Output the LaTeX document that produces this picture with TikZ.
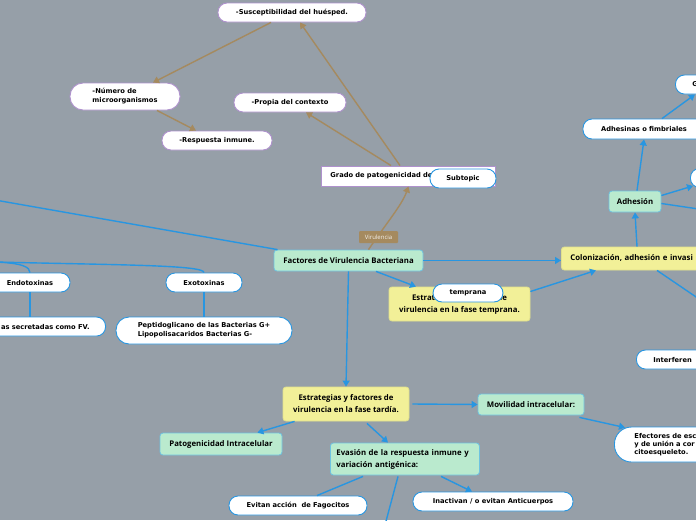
\documentclass[tikz,border=0pt]{standalone}
\usepackage{fontspec}
\setmainfont{DejaVu Sans}
\newfontfamily\osans{Open Sans}
\usetikzlibrary{arrows.meta,calc}
\definecolor{bg}{RGB}{150,159,168}
\definecolor{lineblue}{RGB}{40,150,225}
\definecolor{brownc}{RGB}{165,138,95}
\definecolor{greenfill}{RGB}{186,234,206}
\definecolor{greenborder}{RGB}{110,195,225}
\definecolor{yellowfill}{RGB}{242,240,152}
\definecolor{yellowborder}{RGB}{225,225,140}
\definecolor{pillpurple}{RGB}{175,145,205}
\begin{document}
\begin{tikzpicture}[x=1pt,y=-1pt,
  pill/.style={draw=pillpurple, fill=white, rounded corners=9pt, line width=0.9pt,
    font=\fontsize{6.7}{9}\selectfont\bfseries, inner sep=0pt, minimum height=19pt, align=center},
  bluepill/.style={pill, draw=lineblue},
  greenbox/.style={draw=greenborder, fill=greenfill, rounded corners=3pt, line width=0.8pt,
    font=\osans\fontsize{7.8}{12}\selectfont\bfseries, inner sep=0pt, align=center},
  yellowbox/.style={greenbox, draw=yellowborder, fill=yellowfill},
  bl/.style={draw=lineblue, line width=1.4pt},
  bla/.style={bl, -{Triangle[length=6pt,width=7pt]}},
  br/.style={draw=brownc, line width=1.4pt, -{Triangle[length=6pt,width=7pt]}}
]
\useasboundingbox (0,0) rectangle (696,520);
\fill[bg] (0,0) rectangle (696,520);

% nodes
\node[pill, minimum width=148pt] (susc) at (292,12.5) {-Susceptibilidad del huésped.};
\node[pill, minimum width=110pt, minimum height=27pt, rounded corners=13pt, align=left] (num) at (125,96.5) {-Número de\\microorganismos};
\node[pill, minimum width=112pt] (prop) at (290,102.5) {-Propia del contexto};
\node[pill, minimum width=110pt] (resp) at (217,140.5) {-Respuesta inmune.};
\node[pill, rounded corners=0pt, anchor=west, text width=156pt, inner xsep=9pt, minimum height=20pt, align=left] (grado) at (321,176) {Grado de patogenicidad de};
\node[bluepill, minimum width=66pt] (subt) at (463,178.5) {Subtopic};

\node[greenbox, minimum width=149pt, minimum height=21pt] (fac) at (348.5,260.5) {Factores de Virulencia Bacteriana};
\node[yellowbox, anchor=west, text width=160pt, inner xsep=9pt, minimum height=23pt, align=left] (col) at (561,258.5) {Colonización, adhesión e invasi};
\node[yellowbox, minimum width=141pt, minimum height=34pt] (estt) at (459.5,304) {Estrategias y factores de\\virulencia en la fase temprana.};
\node[bluepill, minimum width=70pt, minimum height=18pt] (temp) at (468,293) {temprana};
\node[greenbox, minimum width=52pt, minimum height=21pt] (adh) at (635,201.5) {Adhesión};
\node[bluepill, minimum width=122pt, minimum height=20pt] (adhs) at (644,129) {Adhesinas o fimbriales};
\node[bluepill, anchor=west, text width=40pt, inner xsep=17pt, align=left] (gl) at (675,84.5) {G};
\node[bluepill, anchor=west, minimum width=50pt] (rp) at (690,178) {};
\node[bluepill, anchor=west, text width=60pt, inner xsep=17pt, align=left] (intf) at (636,359.5) {Interferen};
\node[greenbox, minimum width=106pt, minimum height=21pt] (mov) at (531,404.5) {Movilidad intracelular:};
\node[bluepill, anchor=west, text width=80pt, inner xsep=20pt, minimum height=35pt, rounded corners=17pt, align=left, font=\fontsize{6.7}{8.3}\selectfont\bfseries] (efe) at (614,444.5) {Efectores de esc\\y de unión a cor\\citoesqueleto.};
\node[yellowbox, minimum width=126pt, minimum height=34pt] (estd) at (346,404) {Estrategias y factores de\\virulencia en la fase tardía.};
\node[greenbox, minimum width=122pt, minimum height=22pt] (pat) at (221,444) {Patogenicidad Intracelular};
\node[greenbox, anchor=west, text width=137pt, inner xsep=6pt, minimum height=32pt, align=left] (eva) at (330,459) {Evasión de la respuesta inmune y\\variación antigénica:};
\node[bluepill, minimum width=138pt] (evi) at (298,505.5) {Evitan acción\ \ de Fagocitos};
\node[bluepill, minimum width=160pt] (ina) at (493,501.5) {Inactivan / o evitan Anticuerpos};
\node[bluepill, minimum width=80pt] (endo) at (30,282.5) {Endotoxinas};
\node[bluepill, minimum width=76pt] (exo) at (204,282.5) {Exotoxinas};
\node[bluepill, anchor=east, inner xsep=16pt] (sec) at (106,326.5) {as secretadas como FV.};
\node[bluepill, minimum width=176pt, minimum height=27pt, rounded corners=13pt, align=left, font=\fontsize{6.7}{9}\selectfont\bfseries] (pep) at (204,330.5) {Peptidoglicano de las Bacterias G+\\Lipopolisacaridos Bacterias G-};

% free ends
\coordinate (offL1) at (-5,200);
\coordinate (offL2) at (-5,262);
\coordinate (offR1) at (702,209.5);
\coordinate (offR2) at (702,301);
\coordinate (offB) at (385,525);

% brown connectors
\draw[br] (grado.north -| 400,0) -- (susc.south -| 300,0);
\draw[br] (grado.north -| 391,0) -- (prop.south -| 306,0);
\draw[br] (susc.south -| 271,0) -- (num.north -| 153,0);
\draw[br] (num.south -| 157,0) -- (resp.north -| 196,0);
\draw[br] ($(fac.north)+(20,0)$) .. controls (385,225) and (402,205) .. (grado.south);
\node[fill=brownc, text=white!88!brownc, font=\osans\fontsize{6}{7}\selectfont, minimum width=39pt, minimum height=12pt, inner sep=0pt, rounded corners=1pt] (vir) at (378.5,237) {Virulencia};

% blue connectors
\draw[bla] (fac.east) -- (fac.east -| col.west);
\draw[bla] (fac.south -| 376,0) -- (estt.north -| 416,0);
\draw[bla] (estt.10) -- (col.south -| 596,0);
\draw[bla] (col.north -| 637,0) -- (adh.south);
\draw[bla] (adh.north -| 637,0) -- (adhs.south);
\draw[bla] (adhs.north -| 662,0) -- ($(gl.south west)+(20,0)$);
\draw[bla] ($(adh.east)+(0,-6)$) -- ($(rp.south west)+(3,-2)$);
\draw[bl] ($(adh.east)+(0,2)$) -- (offR1);
\draw[bl] (col.south -| 657,0) -- (offR2);
\draw[bla] (fac.south) -- (estd.north);
\draw[bl] ($(fac.north west)+(4,0)$) -- (offL1);
\draw[bl] (offL2) .. controls (120,265) and (204,265) .. (exo.north);
\draw[bl] (offL2) .. controls (22,263) and (30,267) .. (endo.north);
\draw[bl] (endo.south) -- (endo.south |- sec.north);
\draw[bl] (exo.south) -- (pep.north);
\draw[bla] ($(estd.south west)+(12,0)$) -- ($(pat.north east)+(-25,0)$);
\draw[bla] ($(estd.east)+(3,0)$) -- (mov.west);
\draw[bla] ($(estd.south)+(21,2)$) -- ($(eva.north west)+(58,0)$);
\draw[bla] ($(mov.south east)+(-5,2)$) -- ($(efe.north west)+(11,1)$);
\draw[bl] ($(eva.south west)+(33,1)$) -- ($(evi.north)+(19,0)$);
\draw[bl] ($(eva.south west)+(68,1)$) -- (offB);
\draw[bla] ($(eva.south west)+(111,1)$) -- ($(ina.north)+(-21,0)$);
\end{tikzpicture}
\end{document}
